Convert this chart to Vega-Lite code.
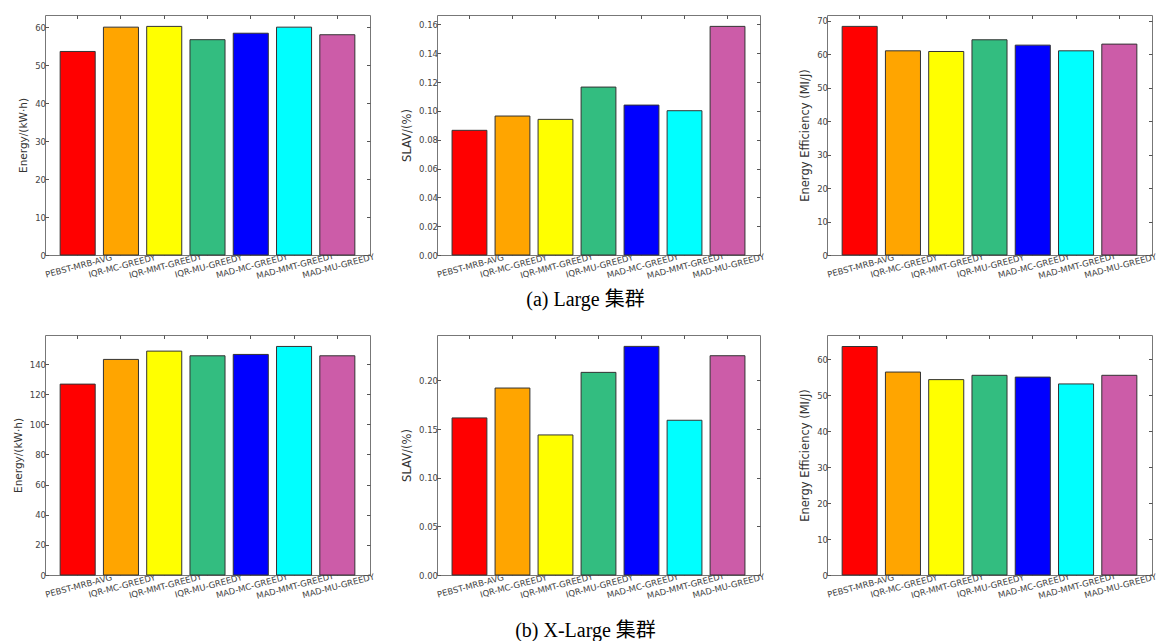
{
  "$schema": "https://vega.github.io/schema/vega-lite/v6.json",
  "background": "white",
  "padding": {"left": 12, "top": 14, "right": 0, "bottom": 0},
  "config": {
    "view": {"stroke": "#777", "strokeWidth": 1},
    "axis": {"domain": false, "grid": false, "tickSize": -3.5, "tickColor": "#555", "tickWidth": 1, "labelFont": "DejaVu Sans", "labelFontSize": 8.5, "labelColor": "#444", "labelPadding": 3, "titleFont": "DejaVu Sans", "titleFontSize": 10.5, "titleFontWeight": "normal", "titleColor": "#333", "titlePadding": 6},
    "axisX": {"labelAngle": -15, "labelAlign": "center", "labelBaseline": "top", "labelPadding": 10, "labelFontSize": 8.5}
  },
  "datasets": {
    "bars": [
      {"cluster": "Large", "metric": "energy", "method": "PEBST-MRB-AVG", "value": 53.6},
      {"cluster": "Large", "metric": "energy", "method": "IQR-MC-GREEDY", "value": 60.0},
      {"cluster": "Large", "metric": "energy", "method": "IQR-MMT-GREEDY", "value": 60.2},
      {"cluster": "Large", "metric": "energy", "method": "IQR-MU-GREEDY", "value": 56.7},
      {"cluster": "Large", "metric": "energy", "method": "MAD-MC-GREEDY", "value": 58.4},
      {"cluster": "Large", "metric": "energy", "method": "MAD-MMT-GREEDY", "value": 60.0},
      {"cluster": "Large", "metric": "energy", "method": "MAD-MU-GREEDY", "value": 58.0},
      {"cluster": "Large", "metric": "slav", "method": "PEBST-MRB-AVG", "value": 0.0865},
      {"cluster": "Large", "metric": "slav", "method": "IQR-MC-GREEDY", "value": 0.0964},
      {"cluster": "Large", "metric": "slav", "method": "IQR-MMT-GREEDY", "value": 0.0941},
      {"cluster": "Large", "metric": "slav", "method": "IQR-MU-GREEDY", "value": 0.1165},
      {"cluster": "Large", "metric": "slav", "method": "MAD-MC-GREEDY", "value": 0.104},
      {"cluster": "Large", "metric": "slav", "method": "MAD-MMT-GREEDY", "value": 0.1001},
      {"cluster": "Large", "metric": "slav", "method": "MAD-MU-GREEDY", "value": 0.1586},
      {"cluster": "Large", "metric": "ee", "method": "PEBST-MRB-AVG", "value": 68.3},
      {"cluster": "Large", "metric": "ee", "method": "IQR-MC-GREEDY", "value": 61.0},
      {"cluster": "Large", "metric": "ee", "method": "IQR-MMT-GREEDY", "value": 60.8},
      {"cluster": "Large", "metric": "ee", "method": "IQR-MU-GREEDY", "value": 64.3},
      {"cluster": "Large", "metric": "ee", "method": "MAD-MC-GREEDY", "value": 62.7},
      {"cluster": "Large", "metric": "ee", "method": "MAD-MMT-GREEDY", "value": 61.0},
      {"cluster": "Large", "metric": "ee", "method": "MAD-MU-GREEDY", "value": 63.0},
      {"cluster": "XLarge", "metric": "energy", "method": "PEBST-MRB-AVG", "value": 126.7},
      {"cluster": "XLarge", "metric": "energy", "method": "IQR-MC-GREEDY", "value": 143.1},
      {"cluster": "XLarge", "metric": "energy", "method": "IQR-MMT-GREEDY", "value": 148.6},
      {"cluster": "XLarge", "metric": "energy", "method": "IQR-MU-GREEDY", "value": 145.5},
      {"cluster": "XLarge", "metric": "energy", "method": "MAD-MC-GREEDY", "value": 146.4},
      {"cluster": "XLarge", "metric": "energy", "method": "MAD-MMT-GREEDY", "value": 151.7},
      {"cluster": "XLarge", "metric": "energy", "method": "MAD-MU-GREEDY", "value": 145.5},
      {"cluster": "XLarge", "metric": "slav", "method": "PEBST-MRB-AVG", "value": 0.1614},
      {"cluster": "XLarge", "metric": "slav", "method": "IQR-MC-GREEDY", "value": 0.1921},
      {"cluster": "XLarge", "metric": "slav", "method": "IQR-MMT-GREEDY", "value": 0.1439},
      {"cluster": "XLarge", "metric": "slav", "method": "IQR-MU-GREEDY", "value": 0.2082},
      {"cluster": "XLarge", "metric": "slav", "method": "MAD-MC-GREEDY", "value": 0.2349},
      {"cluster": "XLarge", "metric": "slav", "method": "MAD-MMT-GREEDY", "value": 0.159},
      {"cluster": "XLarge", "metric": "slav", "method": "MAD-MU-GREEDY", "value": 0.2253},
      {"cluster": "XLarge", "metric": "ee", "method": "PEBST-MRB-AVG", "value": 63.5},
      {"cluster": "XLarge", "metric": "ee", "method": "IQR-MC-GREEDY", "value": 56.4},
      {"cluster": "XLarge", "metric": "ee", "method": "IQR-MMT-GREEDY", "value": 54.3},
      {"cluster": "XLarge", "metric": "ee", "method": "IQR-MU-GREEDY", "value": 55.5},
      {"cluster": "XLarge", "metric": "ee", "method": "MAD-MC-GREEDY", "value": 55.0},
      {"cluster": "XLarge", "metric": "ee", "method": "MAD-MMT-GREEDY", "value": 53.1},
      {"cluster": "XLarge", "metric": "ee", "method": "MAD-MU-GREEDY", "value": 55.5}
    ]
  },
  "vconcat": [
    {
      "bounds": "flush",
      "spacing": 67,
      "hconcat": [
        {
          "width": 325, "height": 240,
          "data": {"name": "bars"},
          "transform": [{"filter": "datum.cluster === 'Large' && datum.metric === 'energy'"}],
          "layer": [
            {"mark": {"type": "bar", "stroke": "#333", "strokeWidth": 1},
             "encoding": {
               "x": {"field": "method", "type": "nominal", "sort": null, "scale": {"paddingInner": 0.19, "paddingOuter": 0.35}, "axis": {"title": null}},
               "y": {"field": "value", "type": "quantitative", "scale": {"domain": [0, 63.2], "nice": false}, "axis": {"title": "Energy/(kW·h)", "values": [0, 10, 20, 30, 40, 50, 60]}},
               "color": {"field": "method", "type": "nominal", "sort": null, "legend": null, "scale": {"domain": ["PEBST-MRB-AVG", "IQR-MC-GREEDY", "IQR-MMT-GREEDY", "IQR-MU-GREEDY", "MAD-MC-GREEDY", "MAD-MMT-GREEDY", "MAD-MU-GREEDY"], "range": ["#ff0000", "#ffa500", "#ffff00", "#33bd80", "#0000ff", "#00ffff", "#cc5ca8"]}}
             }},
            {"mark": {"type": "bar", "opacity": 0},
             "encoding": {
               "x": {"field": "method", "type": "nominal", "sort": null, "axis": {"orient": "top", "labels": false, "title": null}},
               "y": {"field": "value", "type": "quantitative", "axis": {"orient": "right", "labels": false, "title": null, "values": [0, 10, 20, 30, 40, 50, 60]}}
             }}
          ],
          "resolve": {"axis": {"x": "independent", "y": "independent"}}
        },
        {
          "width": 323, "height": 240,
          "data": {"name": "bars"},
          "transform": [{"filter": "datum.cluster === 'Large' && datum.metric === 'slav'"}],
          "layer": [
            {"mark": {"type": "bar", "stroke": "#333", "strokeWidth": 1},
             "encoding": {
               "x": {"field": "method", "type": "nominal", "sort": null, "scale": {"paddingInner": 0.19, "paddingOuter": 0.35}, "axis": {"title": "(a) Large 集群", "titleFont": "Liberation Serif, Noto Sans CJK SC", "titleFontSize": 20, "titleColor": "#000", "titleX": 148, "titleY": 44, "titleBaseline": "middle", "titleAlign": "center"}},
               "y": {"field": "value", "type": "quantitative", "scale": {"domain": [0, 0.1665], "nice": false}, "axis": {"title": "SLAV/(%)", "titleFontSize": 11.5, "format": ".2f", "values": [0, 0.02, 0.04, 0.06, 0.08, 0.1, 0.12, 0.14, 0.16]}},
               "color": {"field": "method", "type": "nominal", "sort": null, "legend": null, "scale": {"domain": ["PEBST-MRB-AVG", "IQR-MC-GREEDY", "IQR-MMT-GREEDY", "IQR-MU-GREEDY", "MAD-MC-GREEDY", "MAD-MMT-GREEDY", "MAD-MU-GREEDY"], "range": ["#ff0000", "#ffa500", "#ffff00", "#33bd80", "#0000ff", "#00ffff", "#cc5ca8"]}}
             }},
            {"mark": {"type": "bar", "opacity": 0},
             "encoding": {
               "x": {"field": "method", "type": "nominal", "sort": null, "axis": {"orient": "top", "labels": false, "title": null}},
               "y": {"field": "value", "type": "quantitative", "axis": {"orient": "right", "labels": false, "title": null, "values": [0, 0.02, 0.04, 0.06, 0.08, 0.1, 0.12, 0.14, 0.16]}}
             }}
          ],
          "resolve": {"axis": {"x": "independent", "y": "independent"}}
        },
        {
          "width": 325, "height": 240,
          "data": {"name": "bars"},
          "transform": [{"filter": "datum.cluster === 'Large' && datum.metric === 'ee'"}],
          "layer": [
            {"mark": {"type": "bar", "stroke": "#333", "strokeWidth": 1},
             "encoding": {
               "x": {"field": "method", "type": "nominal", "sort": null, "scale": {"paddingInner": 0.19, "paddingOuter": 0.35}, "axis": {"title": null}},
               "y": {"field": "value", "type": "quantitative", "scale": {"domain": [0, 71.7], "nice": false}, "axis": {"title": "Energy Efficiency (MI/J)", "titleFontSize": 11.5, "values": [0, 10, 20, 30, 40, 50, 60, 70]}},
               "color": {"field": "method", "type": "nominal", "sort": null, "legend": null, "scale": {"domain": ["PEBST-MRB-AVG", "IQR-MC-GREEDY", "IQR-MMT-GREEDY", "IQR-MU-GREEDY", "MAD-MC-GREEDY", "MAD-MMT-GREEDY", "MAD-MU-GREEDY"], "range": ["#ff0000", "#ffa500", "#ffff00", "#33bd80", "#0000ff", "#00ffff", "#cc5ca8"]}}
             }},
            {"mark": {"type": "bar", "opacity": 0},
             "encoding": {
               "x": {"field": "method", "type": "nominal", "sort": null, "axis": {"orient": "top", "labels": false, "title": null}},
               "y": {"field": "value", "type": "quantitative", "axis": {"orient": "right", "labels": false, "title": null, "values": [0, 10, 20, 30, 40, 50, 60, 70]}}
             }}
          ],
          "resolve": {"axis": {"x": "independent", "y": "independent"}}
        }
      ]
    },
    {
      "bounds": "flush",
      "spacing": 67,
      "hconcat": [
        {
          "width": 325, "height": 240,
          "data": {"name": "bars"},
          "transform": [{"filter": "datum.cluster === 'XLarge' && datum.metric === 'energy'"}],
          "layer": [
            {"mark": {"type": "bar", "stroke": "#333", "strokeWidth": 1},
             "encoding": {
               "x": {"field": "method", "type": "nominal", "sort": null, "scale": {"paddingInner": 0.19, "paddingOuter": 0.35}, "axis": {"title": null}},
               "y": {"field": "value", "type": "quantitative", "scale": {"domain": [0, 159.3], "nice": false}, "axis": {"title": "Energy/(kW·h)", "values": [0, 20, 40, 60, 80, 100, 120, 140]}},
               "color": {"field": "method", "type": "nominal", "sort": null, "legend": null, "scale": {"domain": ["PEBST-MRB-AVG", "IQR-MC-GREEDY", "IQR-MMT-GREEDY", "IQR-MU-GREEDY", "MAD-MC-GREEDY", "MAD-MMT-GREEDY", "MAD-MU-GREEDY"], "range": ["#ff0000", "#ffa500", "#ffff00", "#33bd80", "#0000ff", "#00ffff", "#cc5ca8"]}}
             }},
            {"mark": {"type": "bar", "opacity": 0},
             "encoding": {
               "x": {"field": "method", "type": "nominal", "sort": null, "axis": {"orient": "top", "labels": false, "title": null}},
               "y": {"field": "value", "type": "quantitative", "axis": {"orient": "right", "labels": false, "title": null, "values": [0, 20, 40, 60, 80, 100, 120, 140]}}
             }}
          ],
          "resolve": {"axis": {"x": "independent", "y": "independent"}}
        },
        {
          "width": 323, "height": 240,
          "data": {"name": "bars"},
          "transform": [{"filter": "datum.cluster === 'XLarge' && datum.metric === 'slav'"}],
          "layer": [
            {"mark": {"type": "bar", "stroke": "#333", "strokeWidth": 1},
             "encoding": {
               "x": {"field": "method", "type": "nominal", "sort": null, "scale": {"paddingInner": 0.19, "paddingOuter": 0.35}, "axis": {"title": "(b) X-Large 集群", "titleFont": "Liberation Serif, Noto Sans CJK SC", "titleFontSize": 20, "titleColor": "#000", "titleX": 148, "titleY": 55, "titleBaseline": "middle", "titleAlign": "center"}},
               "y": {"field": "value", "type": "quantitative", "scale": {"domain": [0, 0.2466], "nice": false}, "axis": {"title": "SLAV/(%)", "titleFontSize": 11.5, "format": ".2f", "values": [0, 0.05, 0.1, 0.15, 0.2]}},
               "color": {"field": "method", "type": "nominal", "sort": null, "legend": null, "scale": {"domain": ["PEBST-MRB-AVG", "IQR-MC-GREEDY", "IQR-MMT-GREEDY", "IQR-MU-GREEDY", "MAD-MC-GREEDY", "MAD-MMT-GREEDY", "MAD-MU-GREEDY"], "range": ["#ff0000", "#ffa500", "#ffff00", "#33bd80", "#0000ff", "#00ffff", "#cc5ca8"]}}
             }},
            {"mark": {"type": "bar", "opacity": 0},
             "encoding": {
               "x": {"field": "method", "type": "nominal", "sort": null, "axis": {"orient": "top", "labels": false, "title": null}},
               "y": {"field": "value", "type": "quantitative", "axis": {"orient": "right", "labels": false, "title": null, "values": [0, 0.05, 0.1, 0.15, 0.2]}}
             }}
          ],
          "resolve": {"axis": {"x": "independent", "y": "independent"}}
        },
        {
          "width": 325, "height": 240,
          "data": {"name": "bars"},
          "transform": [{"filter": "datum.cluster === 'XLarge' && datum.metric === 'ee'"}],
          "layer": [
            {"mark": {"type": "bar", "stroke": "#333", "strokeWidth": 1},
             "encoding": {
               "x": {"field": "method", "type": "nominal", "sort": null, "scale": {"paddingInner": 0.19, "paddingOuter": 0.35}, "axis": {"title": null}},
               "y": {"field": "value", "type": "quantitative", "scale": {"domain": [0, 66.7], "nice": false}, "axis": {"title": "Energy Efficiency (MI/J)", "titleFontSize": 11.5, "values": [0, 10, 20, 30, 40, 50, 60]}},
               "color": {"field": "method", "type": "nominal", "sort": null, "legend": null, "scale": {"domain": ["PEBST-MRB-AVG", "IQR-MC-GREEDY", "IQR-MMT-GREEDY", "IQR-MU-GREEDY", "MAD-MC-GREEDY", "MAD-MMT-GREEDY", "MAD-MU-GREEDY"], "range": ["#ff0000", "#ffa500", "#ffff00", "#33bd80", "#0000ff", "#00ffff", "#cc5ca8"]}}
             }},
            {"mark": {"type": "bar", "opacity": 0},
             "encoding": {
               "x": {"field": "method", "type": "nominal", "sort": null, "axis": {"orient": "top", "labels": false, "title": null}},
               "y": {"field": "value", "type": "quantitative", "axis": {"orient": "right", "labels": false, "title": null, "values": [0, 10, 20, 30, 40, 50, 60]}}
             }}
          ],
          "resolve": {"axis": {"x": "independent", "y": "independent"}}
        }
      ]
    }
  ],
  "spacing": 24
}
